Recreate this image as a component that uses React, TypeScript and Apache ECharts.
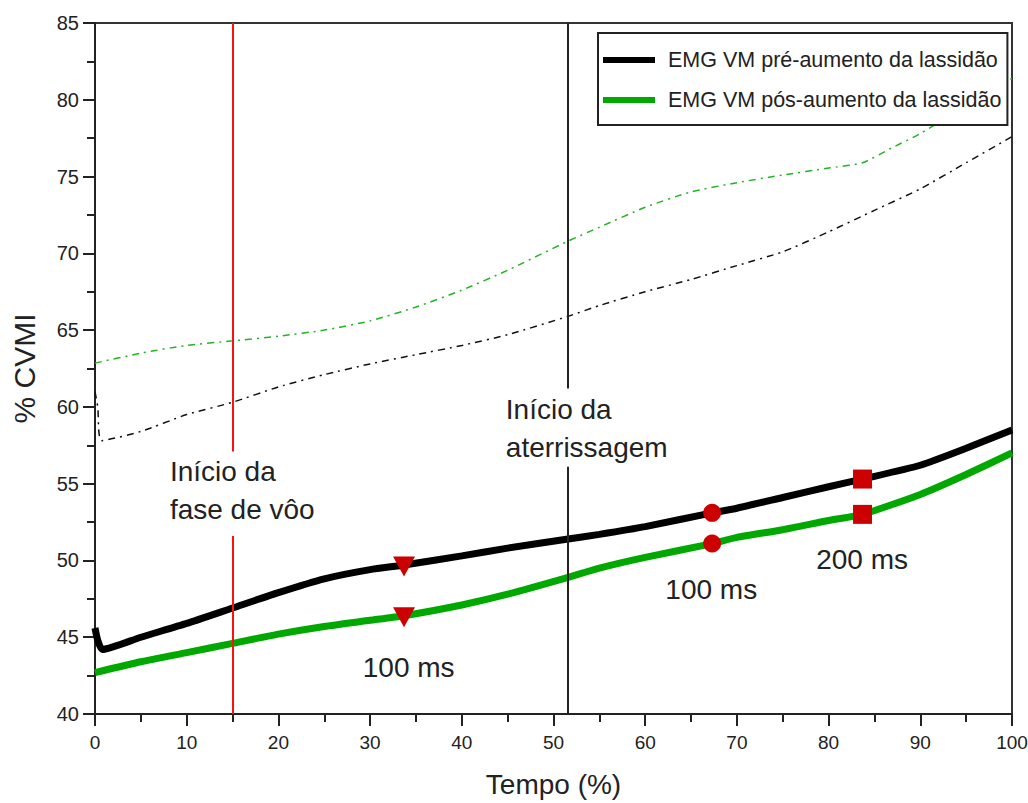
import React, { useEffect, useRef } from "react";
import * as echarts from "echarts";

// ---- data ----
const xPre = [0, 0.3, 0.8, 5, 10, 15, 20, 25, 30, 33.7, 40, 45, 51.6, 55, 60, 67.3, 70, 75, 80, 83.7, 90, 95, 100];
const yPre = [45.6, 44.8, 44.2, 45.0, 45.9, 46.9, 47.9, 48.8, 49.4, 49.7, 50.3, 50.8, 51.4, 51.7, 52.2, 53.1, 53.4, 54.1, 54.8, 55.3, 56.2, 57.3, 58.5];

const xPost = [0, 5, 10, 15, 20, 25, 30, 33.7, 40, 45, 51.6, 55, 60, 67.3, 70, 75, 80, 83.7, 90, 95, 100];
const yPost = [42.7, 43.4, 44.0, 44.6, 45.2, 45.7, 46.1, 46.4, 47.1, 47.8, 48.9, 49.5, 50.2, 51.1, 51.5, 52.0, 52.6, 53.0, 54.3, 55.6, 57.0];

const xPreUpper = [0, 0.3, 0.7, 5, 10, 15, 20, 25, 30, 35, 40, 45, 51.6, 55, 60, 65, 70, 75, 80, 85, 90, 95, 100];
const yPreUpper = [61.0, 60.0, 57.8, 58.4, 59.5, 60.3, 61.3, 62.1, 62.8, 63.4, 64.0, 64.7, 65.9, 66.6, 67.5, 68.3, 69.2, 70.1, 71.4, 72.8, 74.2, 75.9, 77.6];

const xPostUpper = [0, 5, 10, 15, 20, 25, 30, 35, 40, 45, 51.6, 55, 60, 65, 70, 75, 80, 83.7, 87, 90, 95, 100];
const yPostUpper = [62.85, 63.5, 64.0, 64.3, 64.6, 65.0, 65.6, 66.5, 67.6, 68.9, 70.8, 71.7, 73.0, 74.0, 74.6, 75.1, 75.55, 75.9, 76.9, 77.8, 79.6, 81.4];

const triX = [33.7, 33.7];
const triY = [49.6, 46.3];
const circX = [67.3, 67.3];
const circY = [53.1, 51.1];
const sqX = [83.7, 83.7];
const sqY = [55.3, 53.0];

const flightStart = 15; // "Início da fase de vôo"
const flightGap = [57.1, 51.6];
const landingStart = 51.6; // "Início da aterrissagem"
const landingGap = [61.2, 56.1];

const seriesNames = ["EMG VM pré-aumento da lassidão", "EMG VM pós-aumento da lassidão"];

const annotations = [
  { text: "Início da\nfase de vôo", x: 8.17, y: 55.76 },
  { text: "Início da\naterrissagem", x: 44.8, y: 59.82 },
  { text: "100 ms", x: 29.2, y: 43.0 },
  { text: "100 ms", x: 62.2, y: 48.14 },
  { text: "200 ms", x: 78.65, y: 50.09 },
];

const xMin = 0, xMax = 100, xStep = 10;
const yMin = 40, yMax = 85, yStep = 5;

const zip = (xs: number[], ys: number[]) => xs.map((x, i) => [x, ys[i]]);

const FONT = "'Liberation Sans', Arial, sans-serif";
const AXIS = "#222";

export default function App() {
  const ref = useRef<HTMLDivElement>(null);
  useEffect(() => {
    if (!ref.current) return;
    const chart = echarts.init(ref.current, null, { renderer: "svg" });
    const dashDot = [7, 5, 2, 5];
    chart.setOption({
      animation: false,
      backgroundColor: "#fff",
      grid: {
        left: 95, right: 16, top: 23, bottom: 89,
        containLabel: false, outerBoundsMode: "none",
        show: true, borderColor: "#333", borderWidth: 2, backgroundColor: "transparent",
      },
      legend: {
        data: seriesNames,
        orient: "vertical",
        left: 598, top: 33,
        padding: [16, 6, 14, 5],
        itemGap: 18,
        itemWidth: 52, itemHeight: 6,
        icon: "rect",
        backgroundColor: "#fff",
        borderColor: "#222", borderWidth: 2, borderRadius: 0,
        textStyle: { fontFamily: FONT, fontSize: 21.5, color: "#222", lineHeight: 22, padding: [0, 0, 0, 8] },
        selectedMode: false,
      },
      xAxis: {
        type: "value", min: xMin, max: xMax, interval: xStep,
        name: "Tempo (%)", nameLocation: "middle", nameGap: 56,
        nameTextStyle: { fontFamily: FONT, fontSize: 28, color: "#222" },
        axisLine: { show: true, lineStyle: { color: AXIS, width: 2 } },
        axisTick: { show: true, length: 12, lineStyle: { color: AXIS, width: 2 } },
        minorTick: { show: true, splitNumber: 2, length: 8, lineStyle: { color: AXIS, width: 2 } },
        axisLabel: { fontFamily: FONT, fontSize: 19, color: "#222", margin: 19 },
        splitLine: { show: false },
      },
      yAxis: {
        type: "value", min: yMin, max: yMax, interval: yStep,
        name: "% CVMI", nameLocation: "middle", nameGap: 56,
        nameTextStyle: { fontFamily: FONT, fontSize: 30, color: "#222" },
        axisLine: { show: true, lineStyle: { color: AXIS, width: 2 } },
        axisTick: { show: true, length: 12, lineStyle: { color: AXIS, width: 2 } },
        minorTick: { show: true, splitNumber: 2, length: 8, lineStyle: { color: AXIS, width: 2 } },
        axisLabel: { fontFamily: FONT, fontSize: 20, color: "#222", margin: 16 },
        splitLine: { show: false },
      },
      series: [
        {
          name: "pre-upper", type: "line", data: zip(xPreUpper, yPreUpper), showSymbol: false, symbol: "none",
          smooth: 0.2, lineStyle: { color: "#111", width: 1.5, type: dashDot }, z: 2,
        },
        {
          name: "post-upper", type: "line", data: zip(xPostUpper, yPostUpper), showSymbol: false, symbol: "none",
          smooth: 0.2, lineStyle: { color: "#22b422", width: 1.5, type: dashDot }, z: 2,
        },
        {
          name: "events", type: "line", data: [], silent: true,
          markLine: {
            symbol: "none", silent: true, label: { show: false },
            data: [
              [{ coord: [flightStart, yMax], lineStyle: { color: "#ff1010", width: 2, type: "solid" } }, { coord: [flightStart, flightGap[0]] }],
              [{ coord: [flightStart, flightGap[1]], lineStyle: { color: "#ff1010", width: 2, type: "solid" } }, { coord: [flightStart, yMin] }],
              [{ coord: [landingStart, yMax], lineStyle: { color: "#222", width: 2, type: "solid" } }, { coord: [landingStart, landingGap[0]] }],
              [{ coord: [landingStart, landingGap[1]], lineStyle: { color: "#222", width: 2, type: "solid" } }, { coord: [landingStart, yMin] }],
            ],
          },
          z: 3,
        },
        {
          name: seriesNames[0], type: "line", data: zip(xPre, yPre), showSymbol: false, symbol: "none",
          smooth: 0.2, color: "#000", lineStyle: { color: "#000", width: 7 }, z: 4,
        },
        {
          name: seriesNames[1], type: "line", data: zip(xPost, yPost), showSymbol: false, symbol: "none",
          smooth: 0.2, color: "#00a800", lineStyle: { color: "#00a800", width: 7 }, z: 4,
        },
        {
          name: "tri", type: "scatter", data: zip(triX, triY), symbol: "triangle", symbolRotate: 180,
          symbolSize: [22, 20], itemStyle: { color: "#cc0000", opacity: 1 }, z: 6,
        },
        {
          name: "circ", type: "scatter", data: zip(circX, circY), symbol: "circle",
          symbolSize: 18, itemStyle: { color: "#cc0000", opacity: 1 }, z: 6,
        },
        {
          name: "sq", type: "scatter", data: zip(sqX, sqY), symbol: "rect",
          symbolSize: 19, itemStyle: { color: "#cc0000", opacity: 1 }, z: 6,
        },
      ],
    });

    const lineH = 38;
    const graphics = annotations.map((a) => {
      const p = chart.convertToPixel({ gridIndex: 0 }, [a.x, a.y]) as number[];
      const multi = a.text.includes("\n");
      return {
        type: "text",
        x: p[0],
        y: multi ? p[1] - lineH / 2 : p[1],
        z: 10,
        style: {
          text: a.text,
          fill: "#222",
          font: `28px ${FONT}`,
          lineHeight: lineH,
          textAlign: "left",
          align: "left",
          textVerticalAlign: multi ? "top" : "middle",
          verticalAlign: multi ? "top" : "middle",
        },
      };
    });
    chart.setOption({ graphic: graphics });

    return () => chart.dispose();
  }, []);

  return (
    <div
      ref={ref}
      style={{ position: "fixed", left: 0, top: 0, width: 1028, height: 803, background: "#fff" }}
    />
  );
}
